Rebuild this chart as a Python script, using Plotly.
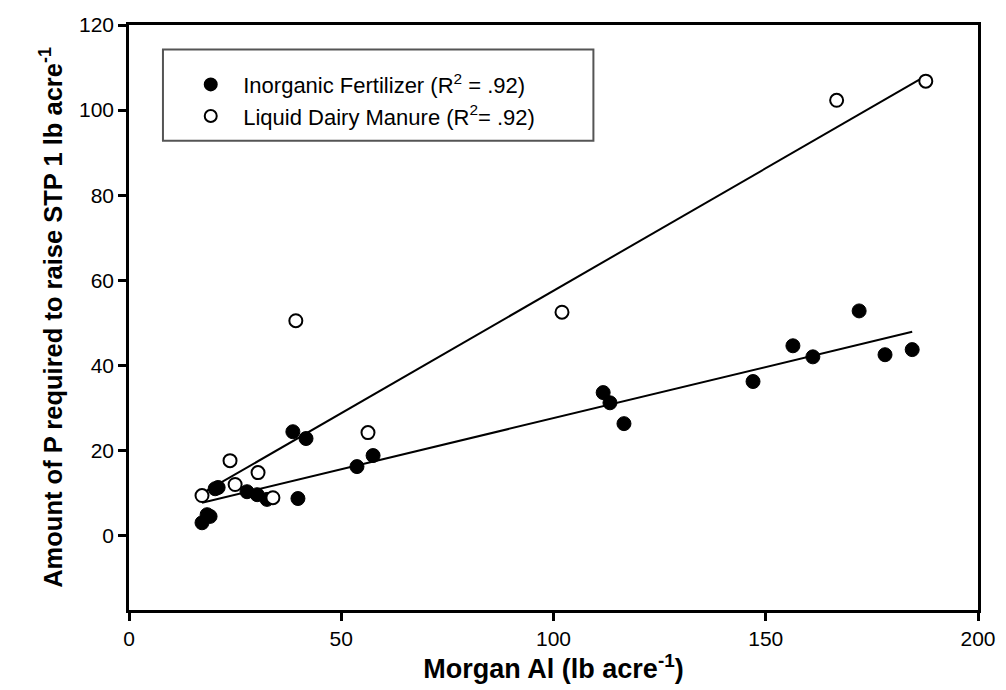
import plotly.graph_objects as go

# Inorganic Fertilizer (filled circles)
inorg_x = [17.2, 18.4, 19.1, 20.3, 21.0, 27.8, 30.2, 32.5, 38.6, 39.8, 41.7, 53.7, 57.5,
           111.7, 113.3, 116.6, 147.0, 156.4, 161.1, 172.0, 178.1, 184.5]
inorg_y = [3.0, 4.9, 4.5, 11.0, 11.3, 10.3, 9.6, 8.5, 24.4, 8.7, 22.8, 16.2, 18.8,
           33.6, 31.2, 26.3, 36.2, 44.6, 42.0, 52.8, 42.5, 43.7]

# Liquid Dairy Manure (open circles)
manure_x = [17.2, 23.8, 25.0, 30.4, 33.9, 39.3, 56.3, 102.0, 166.7, 187.7]
manure_y = [9.4, 17.6, 12.0, 14.8, 8.9, 50.5, 24.2, 52.5, 102.3, 106.8]

# Regression line endpoints
inorg_fit_x = [17.2, 184.5]
inorg_fit_y = [7.7, 47.9]
manure_fit_x = [16.7, 186.8]
manure_fit_y = [9.6, 107.5]

x_ticks = [0, 50, 100, 150, 200]
y_ticks = [0, 20, 40, 60, 80, 100, 120]

font_family = "Liberation Sans, Arial, sans-serif"
tick_family = "Liberation Sans Narrow, Arial Narrow, Liberation Sans, sans-serif"

fig = go.Figure()
fig.add_trace(go.Scatter(x=inorg_fit_x, y=inorg_fit_y, mode="lines",
                         line=dict(color="black", width=2), showlegend=False, hoverinfo="skip"))
fig.add_trace(go.Scatter(x=manure_fit_x, y=manure_fit_y, mode="lines",
                         line=dict(color="black", width=2), showlegend=False, hoverinfo="skip"))
fig.add_trace(go.Scatter(x=inorg_x, y=inorg_y, mode="markers",
                         name="Inorganic Fertilizer (R<sup>2</sup> = .92)",
                         marker=dict(symbol="circle", size=14, color="black",
                                     line=dict(color="black", width=1))))
fig.add_trace(go.Scatter(x=manure_x, y=manure_y, mode="markers",
                         name="Liquid Dairy Manure (R<sup>2</sup>= .92)",
                         marker=dict(symbol="circle", size=13, color="white",
                                     line=dict(color="black", width=2))))

axis_common = dict(showline=True, linecolor="black", linewidth=2.5, mirror=True,
                   ticks="outside", ticklen=8, tickwidth=2.5, tickcolor="black",
                   showgrid=False, zeroline=False, automargin=False,
                   tickfont=dict(family=tick_family, size=21, color="black"))

# legend frame (plot-area fraction coordinates)
fig.add_shape(type="rect", xref="paper", yref="paper",
              x0=0.040, x1=0.547, y0=0.802, y1=0.958,
              line=dict(color="#555", width=2), fillcolor="white", layer="below")

fig.update_layout(
    width=1006, height=690,
    margin=dict(l=129, r=28, t=25, b=80, autoexpand=False),
    plot_bgcolor="white", paper_bgcolor="white",
    font=dict(family=font_family, color="black"),
    xaxis=dict(range=[0, 200], tickvals=x_ticks,
               title=dict(text="<b>Morgan Al (lb acre<sup>-1</sup>)</b>",
                          font=dict(size=27, family=font_family), standoff=6),
               **axis_common),
    yaxis=dict(range=[-17.5, 120], tickvals=y_ticks,
               title=dict(text="<b>Amount of P required to raise STP 1 lb acre<sup>-1</sup></b>",
                          font=dict(size=25.5, family=font_family), standoff=10),
               **axis_common),
    legend=dict(x=0.058, y=0.934, xanchor="left", yanchor="top",
                borderwidth=0, bgcolor="rgba(0,0,0,0)",
                font=dict(size=22, family=font_family), itemsizing="constant",
                itemwidth=55, tracegroupgap=0),
)

fig.write_html("out.html", config={"displayModeBar": False},
               post_script="document.body.style.margin='0';document.body.style.overflow='hidden';")
